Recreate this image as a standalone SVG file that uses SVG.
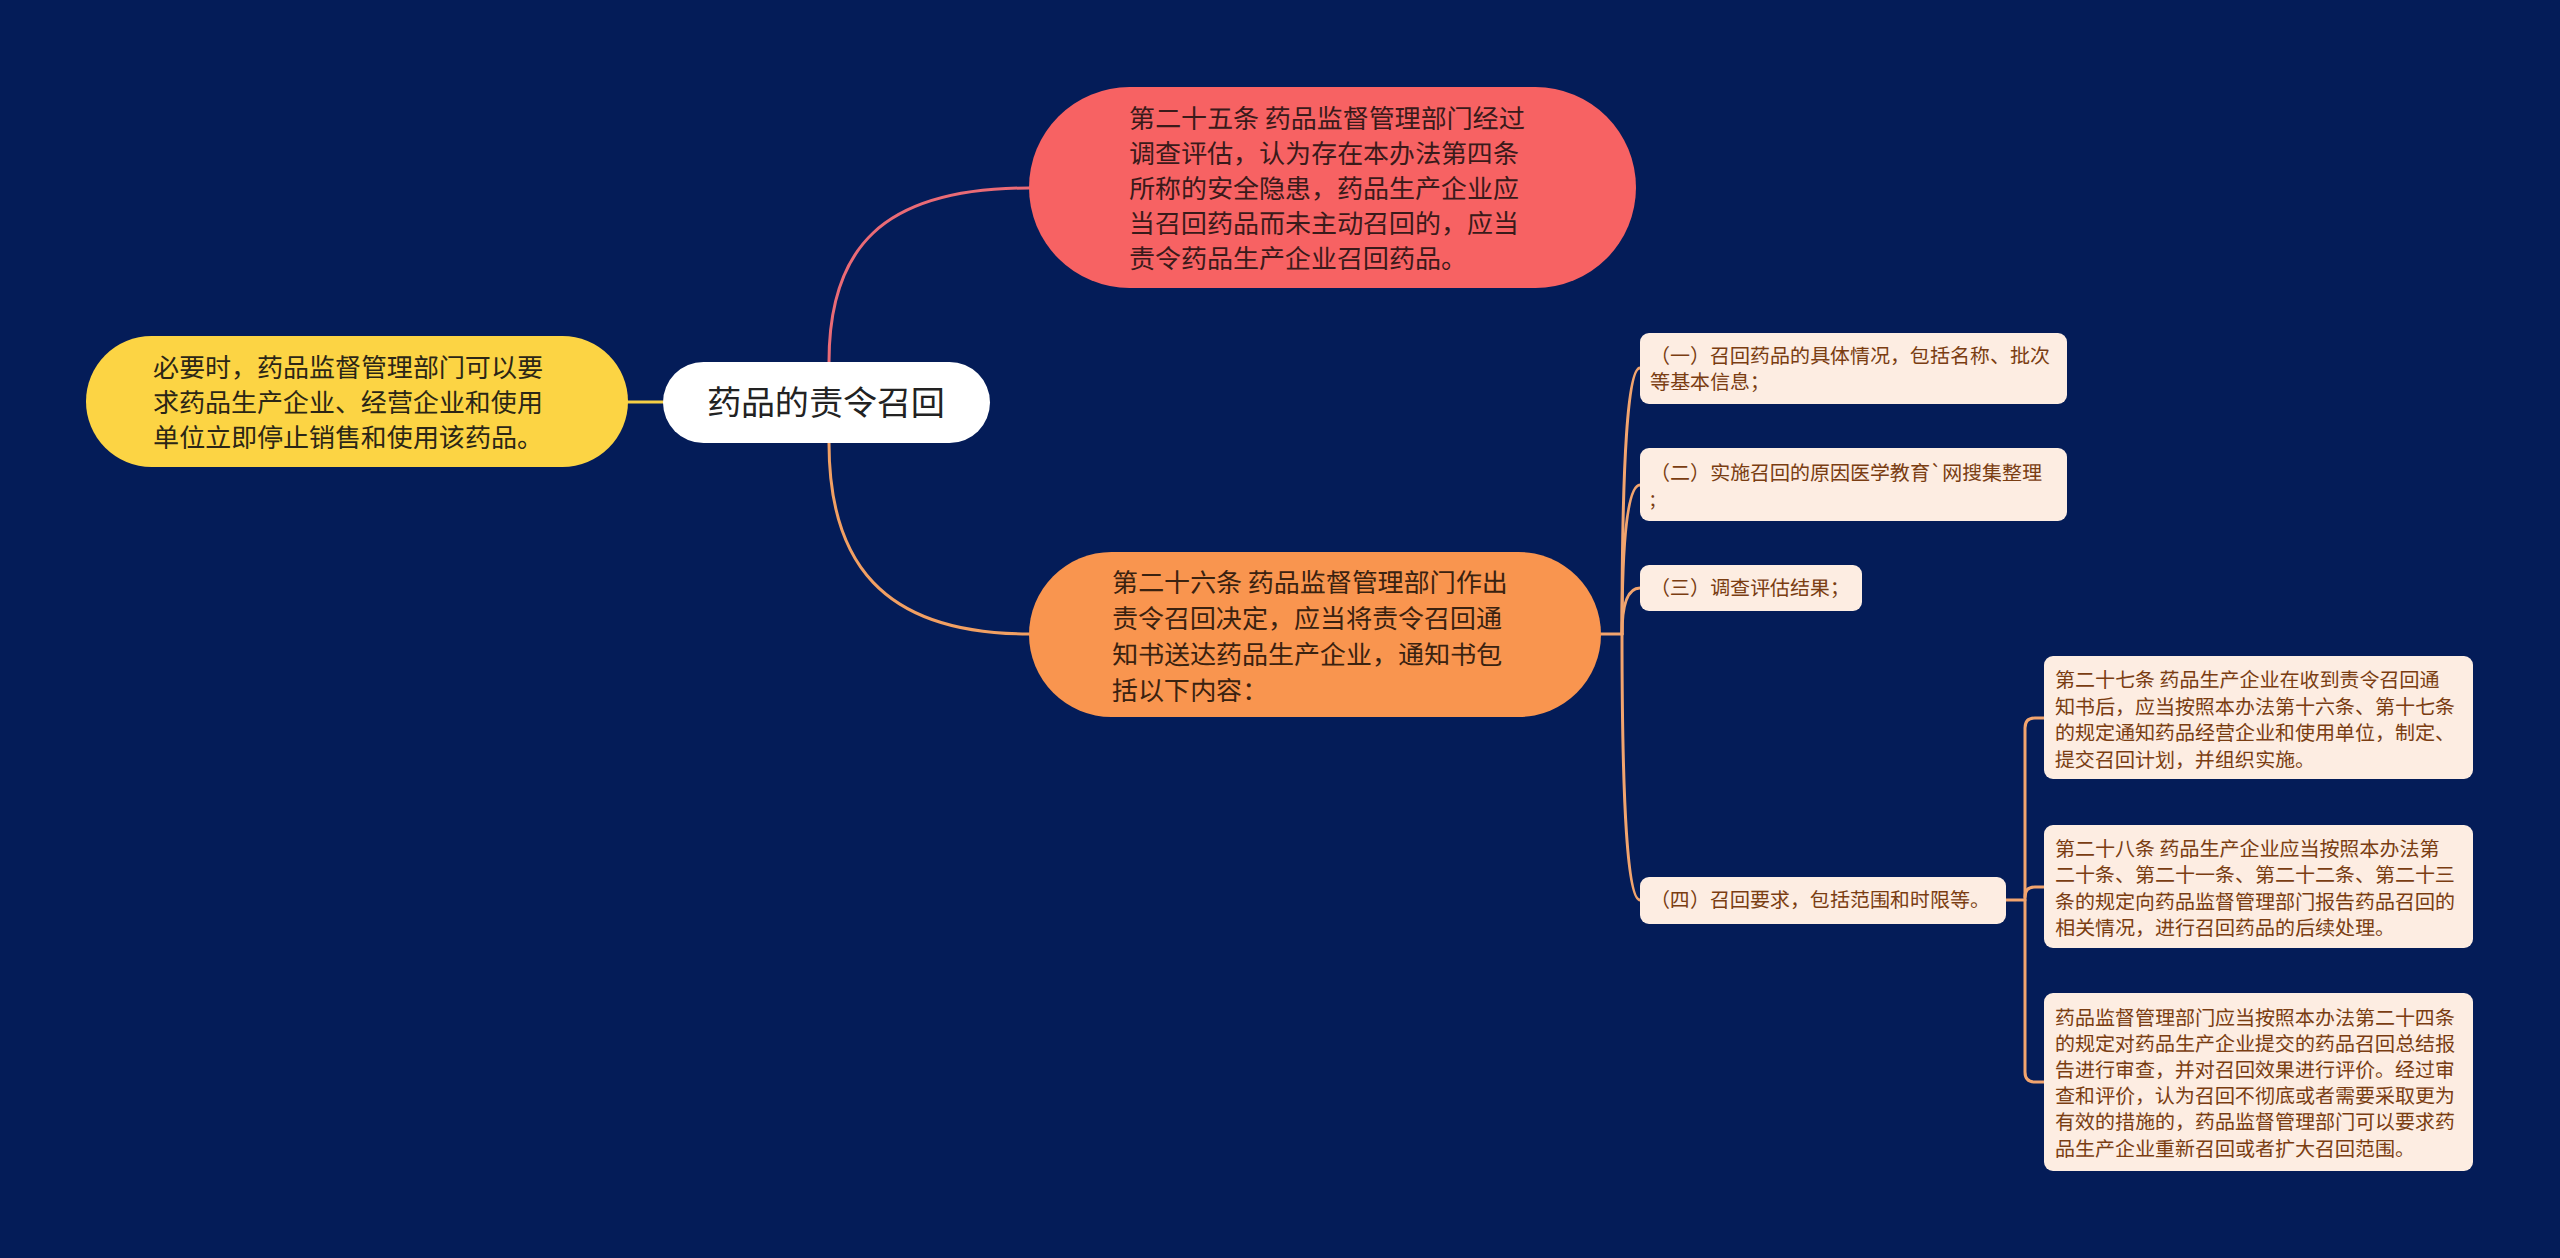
<svg xmlns="http://www.w3.org/2000/svg" width="2560" height="1258" viewBox="0 0 2560 1258">
<style>
text{font-family:"Noto Sans SC","Noto Sans CJK SC","Noto Sans",sans-serif}
.main{font-size:26px}
.sub{font-size:20px;fill:#7a3d12}
.box{fill:#fdede2}
.c{fill:none;stroke-width:3;stroke-linecap:round}
</style>
<rect width="2560" height="1258" fill="#041c58"/>
<g id="connectors">
<path class="c" stroke="#f5cf45" d="M628,402 L663,402"/>
<path class="c" stroke="#ea6b76" d="M829,362 C829,250 880,188 1029,188"/>
<path class="c" stroke="#f2a063" d="M829,443 C829,560 880,634 1029,634"/>
<path class="c" stroke="#f2a46e" d="M1601,634 L1622,634"/>
<path class="c" stroke="#f2a46e" d="M1622,634 Q1622,368 1640,368"/>
<path class="c" stroke="#f2a46e" d="M1622,634 Q1622,485 1640,485"/>
<path class="c" stroke="#f2a46e" d="M1622,634 Q1622,588 1640,588"/>
<path class="c" stroke="#f2a46e" d="M1622,634 Q1622,900 1640,900"/>
<path class="c" stroke="#f2a46e" d="M2006,900 L2025,900"/>
<path class="c" stroke="#f2a46e" d="M2045,718 L2035,718 Q2025,718 2025,728 L2025,1072 Q2025,1082 2035,1082 L2045,1082"/>
<path class="c" stroke="#f2a46e" d="M2025,897 Q2025,887 2035,887 L2045,887"/>
</g>
<g id="root">
<rect x="663" y="362" width="327" height="81" rx="40.5" fill="#ffffff"/>
<text x="826" y="415" font-size="34" fill="#222222" text-anchor="middle">药品的责令召回</text>
</g>
<g id="node-yellow">
<rect x="86" y="336" width="542" height="131" rx="65.5" fill="#fcd444"/>
<text class="main" fill="#2b2616"><tspan x="153" y="377">必要时，药品监督管理部门可以要</tspan><tspan x="153" y="412">求药品生产企业、经营企业和使用</tspan><tspan x="153" y="447">单位立即停止销售和使用该药品。</tspan></text>
</g>
<g id="node-red">
<rect x="1029" y="87" width="607" height="201" rx="100.5" fill="#f76263"/>
<text class="main" fill="#3a1a1a"><tspan x="1129" y="128">第二十五条 药品监督管理部门经过</tspan><tspan x="1129" y="163">调查评估，认为存在本办法第四条</tspan><tspan x="1129" y="198">所称的安全隐患，药品生产企业应</tspan><tspan x="1129" y="233">当召回药品而未主动召回的，应当</tspan><tspan x="1129" y="268">责令药品生产企业召回药品。</tspan></text>
</g>
<g id="node-orange">
<rect x="1029" y="552" width="572" height="165" rx="82.5" fill="#f9954f"/>
<text class="main" fill="#3a2210"><tspan x="1112" y="592">第二十六条 药品监督管理部门作出</tspan><tspan x="1112" y="628">责令召回决定，应当将责令召回通</tspan><tspan x="1112" y="664">知书送达药品生产企业，通知书包</tspan><tspan x="1112" y="700">括以下内容：</tspan></text>
</g>
<g id="item1">
<rect class="box" x="1640" y="333" width="427" height="71" rx="9"/>
<text class="sub"><tspan x="1650" y="363">（一）召回药品的具体情况，包括名称、批次</tspan><tspan x="1650" y="389">等基本信息；</tspan></text>
</g>
<g id="item2">
<rect class="box" x="1640" y="448" width="427" height="73" rx="9"/>
<text class="sub"><tspan x="1650" y="480">（二）实施召回的原因医学教育`网搜集整理</tspan><tspan x="1650" y="506">;</tspan></text>
</g>
<g id="item3">
<rect class="box" x="1640" y="565" width="222" height="46" rx="9"/>
<text class="sub" x="1650" y="595">（三）调查评估结果；</text>
</g>
<g id="item4">
<rect class="box" x="1640" y="877" width="366" height="47" rx="9"/>
<text class="sub" x="1650" y="907">（四）召回要求，包括范围和时限等。</text>
</g>
<g id="art27">
<rect class="box" x="2044" y="656" width="429" height="123" rx="9"/>
<text class="sub"><tspan x="2055" y="687">第二十七条 药品生产企业在收到责令召回通</tspan><tspan x="2055" y="713.5">知书后，应当按照本办法第十六条、第十七条</tspan><tspan x="2055" y="740">的规定通知药品经营企业和使用单位，制定、</tspan><tspan x="2055" y="766.5">提交召回计划，并组织实施。</tspan></text>
</g>
<g id="art28">
<rect class="box" x="2044" y="825" width="429" height="123" rx="9"/>
<text class="sub"><tspan x="2055" y="855.5">第二十八条 药品生产企业应当按照本办法第</tspan><tspan x="2055" y="882">二十条、第二十一条、第二十二条、第二十三</tspan><tspan x="2055" y="908.5">条的规定向药品监督管理部门报告药品召回的</tspan><tspan x="2055" y="935">相关情况，进行召回药品的后续处理。</tspan></text>
</g>
<g id="review">
<rect class="box" x="2044" y="993" width="429" height="178" rx="9"/>
<text class="sub"><tspan x="2055" y="1024.5">药品监督管理部门应当按照本办法第二十四条</tspan><tspan x="2055" y="1050.7">的规定对药品生产企业提交的药品召回总结报</tspan><tspan x="2055" y="1077">告进行审查，并对召回效果进行评价。经过审</tspan><tspan x="2055" y="1103.2">查和评价，认为召回不彻底或者需要采取更为</tspan><tspan x="2055" y="1129.4">有效的措施的，药品监督管理部门可以要求药</tspan><tspan x="2055" y="1155.6">品生产企业重新召回或者扩大召回范围。</tspan></text>
</g>
</svg>
